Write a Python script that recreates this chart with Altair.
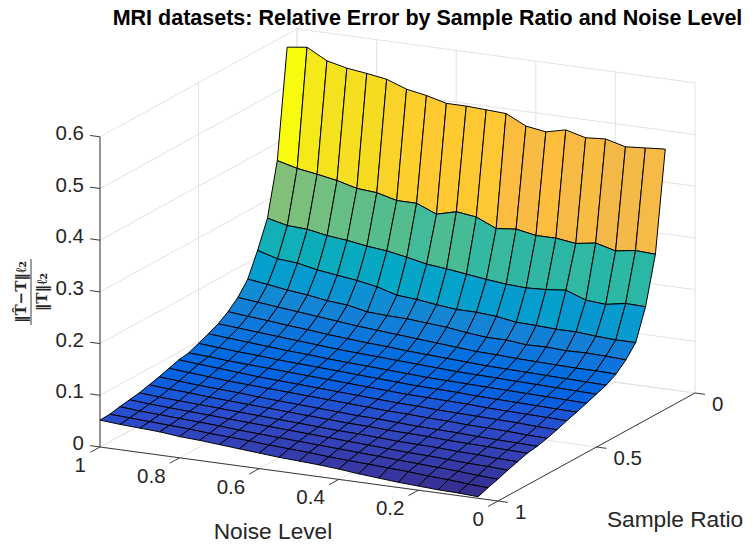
import altair as alt
import pandas as pd

# Noise level runs left to right along the drawn surface (1 down to 0.05),
# sample ratio runs from back (0.05) to front (1).
noise_levels = [1.00, 0.95, 0.90, 0.85, 0.80, 0.75, 0.70, 0.65, 0.60, 0.55,
                0.50, 0.45, 0.40, 0.35, 0.30, 0.25, 0.20, 0.15, 0.10, 0.05]
sample_ratios = [0.05, 0.10, 0.15, 0.20, 0.25, 0.30, 0.35, 0.40, 0.45, 0.50,
                 0.55, 0.60, 0.65, 0.70, 0.75, 0.80, 0.85, 0.90, 0.95, 1.00]

err_s05 = [.575,.580,.559,.550,.545,.539,.525,.518,.508,.508,.506,.504,.485,.479,.488,.478,.481,.471,.474,.477]
err_s10 = [.366,.356,.350,.343,.333,.330,.320,.320,.304,.314,.309,.292,.296,.289,.289,.284,.290,.280,.286,.284]
err_s15 = [.265,.256,.254,.247,.243,.237,.233,.226,.218,.214,.209,.204,.200,.198,.200,.204,.190,.187,.194,.193]
err_s20 = [.213,.202,.199,.191,.186,.181,.174,.163,.160,.155,.151,.151,.148,.142,.141,.139,.139,.136,.134,.134]
err_s25 = [.168,.163,.157,.153,.147,.144,.136,.134,.133,.130,.127,.122,.118,.118,.114,.115,.113,.114,.113,.111]
err_s30 = [.143,.139,.135,.131,.127,.123,.119,.116,.113,.110,.107,.104,.101,.100,.098,.097,.096,.095,.095,.094]
err_s35 = [.126,.122,.119,.115,.112,.108,.105,.102,.100,.097,.095,.093,.091,.089,.088,.087,.086,.085,.084,.083]
err_s40 = [.113,.110,.107,.104,.101,.098,.095,.093,.091,.089,.087,.085,.083,.082,.081,.080,.079,.078,.077,.076]
err_s45 = [.104,.101,.098,.095,.092,.090,.087,.085,.083,.081,.079,.077,.076,.075,.074,.073,.072,.071,.070,.069]
err_s50 = [.096,.093,.090,.088,.085,.083,.081,.079,.077,.075,.073,.071,.070,.069,.067,.066,.065,.064,.063,.062]
err_s55 = [.088,.086,.083,.081,.079,.077,.075,.073,.071,.069,.067,.065,.064,.063,.062,.060,.059,.058,.057,.056]
err_s60 = [.085,.082,.079,.076,.073,.071,.069,.067,.065,.063,.061,.059,.058,.056,.055,.054,.053,.052,.050,.049]
err_s65 = [.079,.076,.073,.070,.068,.066,.064,.062,.060,.058,.056,.054,.053,.051,.050,.048,.047,.046,.044,.043]
err_s70 = [.073,.070,.067,.065,.063,.060,.058,.056,.054,.052,.050,.049,.047,.045,.044,.043,.041,.040,.039,.038]
err_s75 = [.068,.065,.063,.060,.058,.056,.054,.052,.050,.048,.046,.045,.043,.042,.041,.039,.038,.037,.036,.035]
err_s80 = [.063,.060,.058,.056,.054,.052,.050,.048,.046,.044,.042,.041,.039,.037,.036,.035,.033,.032,.030,.029]
err_s85 = [.060,.057,.055,.053,.051,.049,.047,.045,.043,.041,.039,.037,.035,.033,.031,.030,.028,.026,.025,.023]
err_s90 = [.057,.054,.052,.050,.048,.046,.043,.041,.039,.037,.035,.033,.031,.029,.027,.025,.023,.021,.018,.016]
err_s95 = [.053,.051,.049,.047,.045,.042,.040,.038,.035,.033,.031,.028,.026,.024,.022,.020,.017,.015,.012,.010]
err_s100 = [.052,.049,.047,.045,.041,.039,.036,.033,.030,.027,.025,.023,.020,.016,.013,.010,.008,.006,.005,.003]

errors = [err_s05, err_s10, err_s15, err_s20, err_s25, err_s30, err_s35, err_s40, err_s45, err_s50,
          err_s55, err_s60, err_s65, err_s70, err_s75, err_s80, err_s85, err_s90, err_s95, err_s100]

z_ticks = [0, 0.1, 0.2, 0.3, 0.4, 0.5, 0.6]
z_tick_labels = ["0", "0.1", "0.2", "0.3", "0.4", "0.5", "0.6"]
noise_ticks = [1, 0.8, 0.6, 0.4, 0.2, 0]
noise_tick_labels = ["1", "0.8", "0.6", "0.4", "0.2", "0"]
sample_ticks = [0, 0.5, 1]
sample_tick_labels = ["0", "0.5", "1"]

parula = [
 (0.2081,0.1663,0.5292),(0.2116,0.1898,0.5777),(0.2123,0.2138,0.6270),(0.2081,0.2386,0.6771),
 (0.1959,0.2645,0.7279),(0.1707,0.2919,0.7792),(0.1253,0.3242,0.8303),(0.0591,0.3598,0.8683),
 (0.0117,0.3875,0.8820),(0.0060,0.4086,0.8828),(0.0165,0.4266,0.8786),(0.0329,0.4430,0.8720),
 (0.0498,0.4586,0.8641),(0.0629,0.4737,0.8554),(0.0723,0.4887,0.8467),(0.0779,0.5040,0.8384),
 (0.0793,0.5200,0.8312),(0.0749,0.5375,0.8263),(0.0641,0.5570,0.8240),(0.0488,0.5772,0.8228),
 (0.0343,0.5966,0.8199),(0.0265,0.6137,0.8135),(0.0239,0.6287,0.8038),(0.0231,0.6418,0.7913),
 (0.0228,0.6535,0.7768),(0.0267,0.6642,0.7607),(0.0384,0.6743,0.7436),(0.0590,0.6838,0.7254),
 (0.0843,0.6928,0.7062),(0.1133,0.7015,0.6859),(0.1453,0.7098,0.6646),(0.1801,0.7177,0.6424),
 (0.2178,0.7250,0.6193),(0.2586,0.7317,0.5954),(0.3022,0.7376,0.5712),(0.3482,0.7424,0.5473),
 (0.3953,0.7459,0.5244),(0.4420,0.7481,0.5033),(0.4871,0.7491,0.4840),(0.5300,0.7491,0.4661),
 (0.5709,0.7485,0.4494),(0.6099,0.7473,0.4337),(0.6473,0.7456,0.4188),(0.6834,0.7435,0.4044),
 (0.7184,0.7411,0.3905),(0.7525,0.7384,0.3768),(0.7858,0.7356,0.3633),(0.8185,0.7327,0.3498),
 (0.8507,0.7299,0.3360),(0.8824,0.7274,0.3217),(0.9139,0.7258,0.3063),(0.9450,0.7261,0.2886),
 (0.9739,0.7314,0.2666),(0.9938,0.7455,0.2403),(0.9990,0.7653,0.2164),(0.9955,0.7861,0.1967),
 (0.9880,0.8066,0.1794),(0.9789,0.8271,0.1633),(0.9697,0.8481,0.1475),(0.9626,0.8705,0.1309),
 (0.9589,0.8949,0.1132),(0.9598,0.9218,0.0948),(0.9661,0.9514,0.0755),(0.9763,0.9831,0.0538)]
parula_hex = ["#%02x%02x%02x" % tuple(round(c * 255) for c in rgb) for rgb in parula]


def project(n, s, z):
    """Orthographic view of (noise, sample, error) onto the page."""
    return (100 + 398 * (1 - n) + 197 * (1 - s),
            447 + 54 * (1 - n) - 108 * (1 - s) - 517 * z)


def segments_frame(segments):
    rows = []
    for k, pts in enumerate(segments):
        for o, p in enumerate(pts):
            x, y = project(*p)
            rows.append({"seg": k, "o": o, "x": x, "y": y})
    return pd.DataFrame(rows)


# Surface cells: each is coloured by the value at its (back, right) vertex, as in flat shading.
cells = []
for i in range(len(sample_ratios) - 1):
    for j in range(len(noise_levels) - 1):
        corners = [(i, j), (i, j + 1), (i + 1, j + 1), (i + 1, j), (i, j)]
        cid = i * 100 + j
        for o, (a, b) in enumerate(corners):
            x, y = project(noise_levels[b], sample_ratios[a], errors[a][b])
            cells.append({"cell": cid, "o": o, "x": x, "y": y, "err": errors[i][j + 1]})
cells = pd.DataFrame(cells)

z_top = z_ticks[-1]
grid_segments = []
for z in z_ticks:
    grid_segments.append([(1, 1, z), (1, 0, z), (0, 0, z)])
for n in noise_ticks:
    grid_segments.append([(n, 1, 0), (n, 0, 0), (n, 0, z_top)])
for s in sample_ticks:
    grid_segments.append([(0, s, 0), (1, s, 0), (1, s, z_top)])
grid = segments_frame(grid_segments)

axis_segments = [[(1, 1, 0), (1, 1, z_top)], [(1, 1, 0), (0, 1, 0)], [(0, 1, 0), (0, 0, 0)]]
for z in z_ticks:
    axis_segments.append([(1, 1, z), (1.025, 1, z)])
for n in noise_ticks:
    axis_segments.append([(n, 1, 0), (n, 1.05, 0)])
for s in sample_ticks:
    axis_segments.append([(0, s, 0), (-0.025, s, 0)])
axes = segments_frame(axis_segments)

right_labels = []
for z, t in zip(z_ticks, z_tick_labels):
    x, y = project(1, 1, z)
    right_labels.append({"x": x - 16, "y": y - 3, "t": t})
for n, t in zip(noise_ticks, noise_tick_labels):
    x, y = project(n, 1, 0)
    right_labels.append({"x": x - 14, "y": y + 19, "t": t})
right_labels = pd.DataFrame(right_labels)

left_labels = []
for s, t in zip(sample_ticks, sample_tick_labels):
    x, y = project(0, s, 0)
    left_labels.append({"x": x + 17, "y": y + 12, "t": t})
left_labels = pd.DataFrame(left_labels)

X = alt.X("x:Q", scale=alt.Scale(domain=[8, 745]), axis=None)
Y = alt.Y("y:Q", scale=alt.Scale(domain=[544, 36]), axis=None)
FONT = "Liberation Sans"
DARK = "#262626"

grid_layer = alt.Chart(grid).mark_line(stroke="#e3e3e3", strokeWidth=1).encode(
    x=X, y=Y, detail="seg:N", order="o:Q")

surface = alt.Chart(cells).mark_line(stroke="#000000", strokeWidth=1, strokeJoin="round").encode(
    x=X, y=Y, detail="cell:N", order="o:Q",
    fill=alt.Fill("err:Q", legend=None,
                  scale=alt.Scale(domain=[0.003 + (0.580 - 0.003) * k / 63 for k in range(64)],
                                  range=parula_hex, type="linear", clamp=True)))

axis_layer = alt.Chart(axes).mark_line(stroke=DARK, strokeWidth=0.9).encode(
    x=X, y=Y, detail="seg:N", order="o:Q")

tick_right = alt.Chart(right_labels).mark_text(align="right", baseline="middle", font=FONT,
                                               fontSize=20.5, color=DARK).encode(x=X, y=Y, text="t:N")
tick_left = alt.Chart(left_labels).mark_text(align="left", baseline="middle", font=FONT,
                                             fontSize=20.5, color=DARK).encode(x=X, y=Y, text="t:N")

axis_titles = alt.Chart(pd.DataFrame([
    {"x": 273, "y": 532, "t": "Noise Level"},
    {"x": 675, "y": 520, "t": "Sample Ratio"},
])).mark_text(align="center", baseline="middle", font=FONT, fontSize=22.7, color=DARK).encode(
    x=X, y=Y, text="t:N")

frac_text = alt.Chart(pd.DataFrame([
    {"x": 21, "y": 292, "t": "‖T̂−T‖ℓ₂"},
    {"x": 42, "y": 292, "t": "‖T‖ℓ₂"},
])).mark_text(align="center", baseline="middle", angle=270, font="DejaVu Serif", fontWeight="bold",
              fontSize=15, color=DARK).encode(x=X, y=Y, text="t:N")

frac_rule = alt.Chart(pd.DataFrame([{"x": 31, "y": 259, "y2": 325}])).mark_rule(
    stroke=DARK, strokeWidth=0.9).encode(x=X, y=Y, y2="y2:Q")

chart = alt.layer(grid_layer, surface, axis_layer, tick_right, tick_left, axis_titles,
                  frac_text, frac_rule).resolve_scale(fill="independent").properties(
    width=737,
    height=508,
    padding={"left": 0, "top": 28, "right": 0, "bottom": 0},
    autosize=alt.AutoSizeParams(type="none"),
    title=alt.TitleParams("MRI datasets: Relative Error by Sample Ratio and Noise Level",
                          font=FONT, fontSize=21.5, fontWeight="bold", color="#000000",
                          anchor="middle", dx=51, dy=4, offset=1),
    background="white",
).configure_view(stroke=None)

chart.save("out.html", embed_options={"renderer": "svg", "actions": False})
